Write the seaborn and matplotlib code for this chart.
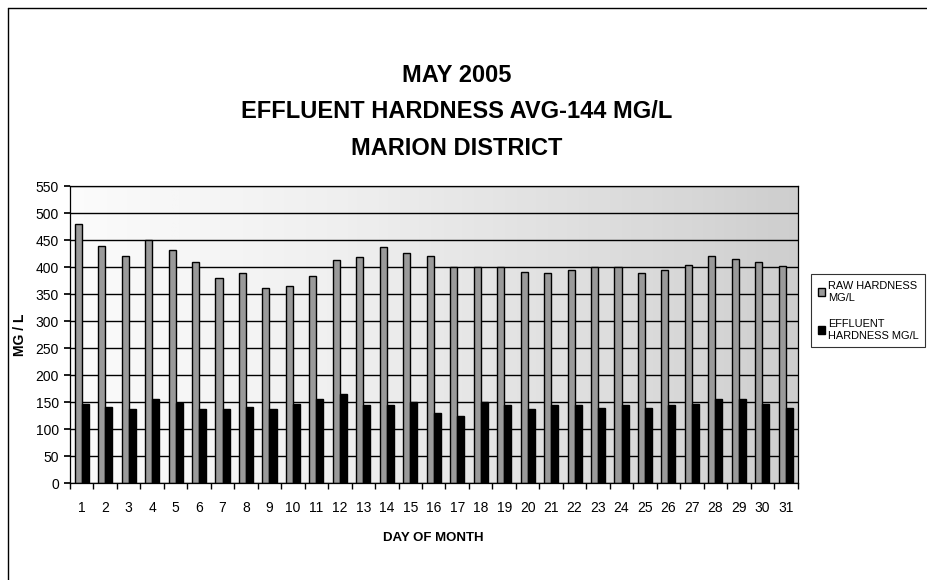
import numpy as np
import pandas as pd
import seaborn as sns
import matplotlib.pyplot as plt
from matplotlib.lines import Line2D

# Datos
dias = list(range(1, 32))
raw_hardness = [480, 440, 421, 451, 431, 410, 380, 390, 362, 366,
                383, 414, 419, 437, 426, 420, 401, 401, 401, 391,
                390, 395, 401, 400, 390, 395, 404, 420, 416, 410, 403]
effluent_hardness = [146, 141, 137, 156, 149, 137, 138, 141, 138, 146,
                     155, 166, 145, 145, 151, 130, 125, 150, 144, 138,
                     145, 145, 140, 144, 140, 145, 146, 155, 155, 146, 140]
series = ["RAW HARDNESS\nMG/L", "EFFLUENT\nHARDNESS MG/L"]

df = pd.DataFrame({
    "dia": dias * 2,
    "valor": raw_hardness + effluent_hardness,
    "serie": [series[0]] * len(dias) + [series[1]] * len(dias),
})

sns.set_theme(style="white")
plt.rcParams["font.family"] = ["Liberation Sans", "DejaVu Sans"]
plt.rcParams["text.color"] = "black"
plt.rcParams["axes.labelcolor"] = "black"
plt.rcParams["xtick.color"] = "black"
plt.rcParams["ytick.color"] = "black"

fig = plt.figure(figsize=(9.28, 5.8), dpi=100)
ax = fig.add_axes([0.0754, 0.167, 0.784, 0.512])

# Fondo punteado aproximado con un degradado gris
grad = np.linspace(0.03, 0.30, 256)[None, :] * np.ones((64, 1))
ax.imshow(grad, extent=[0, 1, 0, 1], transform=ax.transAxes, aspect="auto",
          cmap="Greys", vmin=0, vmax=1, zorder=0)

ax.set_axisbelow(True)
ax.yaxis.grid(True, color="black", linewidth=1.0, zorder=1)

sns.barplot(data=df, x="dia", y="valor", hue="serie",
            palette={series[0]: "#9a9a9a", series[1]: "black"},
            width=0.6, edgecolor="black", linewidth=1.0,
            saturation=1, ax=ax, zorder=2)

ax.set_xlim(-0.5, 30.5)
ax.set_ylim(0, 550)
ax.set_yticks(range(0, 551, 50))
ax.tick_params(axis="y", labelsize=10, length=4, direction="out", left=True,
               color="black", pad=4)
ax.tick_params(axis="x", which="major", labelsize=10, length=0, pad=13)
ax.set_xticks(np.arange(-0.5, 31, 1), minor=True)
ax.tick_params(axis="x", which="minor", length=4, direction="out", bottom=True,
               color="black")

for s in ax.spines.values():
    s.set_color("black")
    s.set_linewidth(0.9)

ax.set_xlabel("DAY OF MONTH", fontsize=9.5, fontweight="bold", labelpad=12)
ax.set_ylabel("MG / L", fontsize=10, fontweight="bold", labelpad=6)

leg = ax.legend(loc="upper left", bbox_to_anchor=(0.874, 0.527),
                bbox_transform=fig.transFigure, fontsize=7.9,
                frameon=True, fancybox=False, edgecolor="black",
                handlelength=0.7, handleheight=0.7, handletextpad=0.25,
                labelspacing=1.5, borderpad=0.6, borderaxespad=0)
leg.get_frame().set_linewidth(0.8)

titulo = ["MAY 2005", "EFFLUENT HARDNESS AVG-144 MG/L", "MARION DISTRICT"]
for i, linea in enumerate(titulo):
    fig.text(0.492, 0.87 - i * 0.063, linea, ha="center", va="center",
             fontsize=17, fontweight="bold", color="black",
             family=["Liberation Sans Narrow", "Liberation Sans", "DejaVu Sans"])

# Marco exterior (izquierda y arriba)
fig.add_artist(Line2D([0.009, 0.009], [0.0, 0.986], color="black", linewidth=1.0))
fig.add_artist(Line2D([0.009, 1.0], [0.986, 0.986], color="black", linewidth=1.0))

plt.savefig("out.png", dpi=100)
